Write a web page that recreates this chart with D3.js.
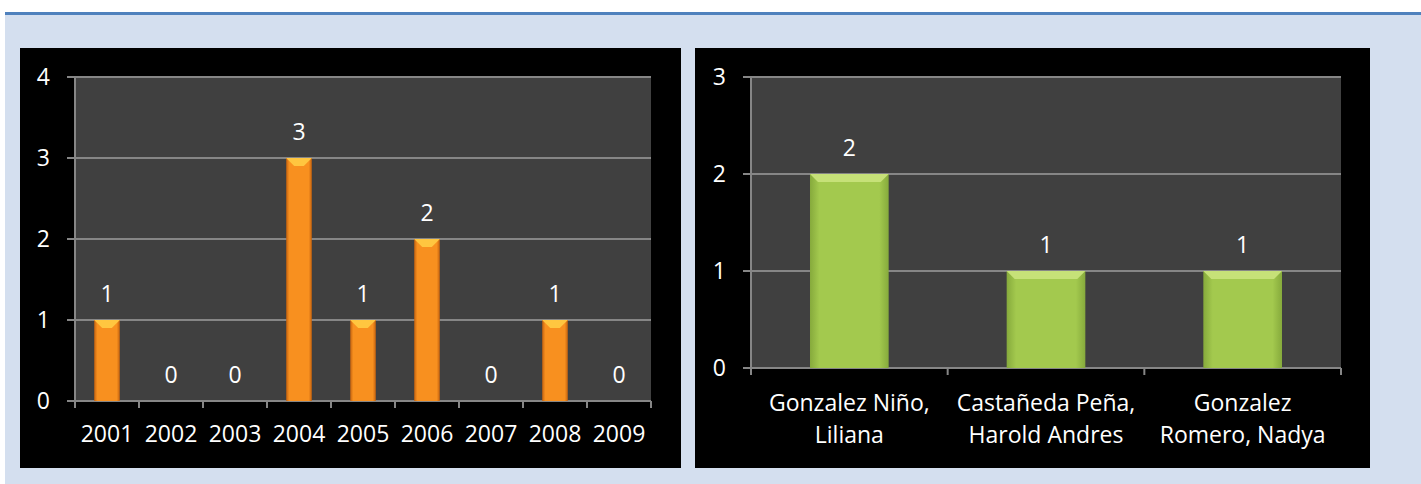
<!DOCTYPE html>
<html>
<head>
<meta charset="utf-8">
<script src="https://cdn.jsdelivr.net/npm/d3@7"></script>
<style>
  body { margin: 0; background: #ffffff; }
  svg { display: block; }
</style>
</head>
<body>
<div id="canvase"></div>
<script>
// data
var years = ["2001", "2002", "2003", "2004", "2005", "2006", "2007", "2008", "2009"];
var yearCounts = [1, 0, 0, 3, 1, 2, 0, 1, 0];
var yearTicks = [0, 1, 2, 3, 4];

var authors = [["Gonzalez Niño,", "Liliana"], ["Castañeda Peña,", "Harold Andres"], ["Gonzalez", "Romero, Nadya"]];
var authorCounts = [2, 1, 1];
var authorTicks = [0, 1, 2, 3];

var W = 1421, H = 484;
var fontF = "'Open Sans', 'Liberation Sans', sans-serif";
var fontS = "23px";

var svg = d3.select("#canvase").append("svg")
            .attr("width", W)
            .attr("height", H);

var defs = svg.append("defs");

function barGrad(id, edge, mid) {
  var g = defs.append("linearGradient")
              .attr("id", id)
              .attr("x1", "0%").attr("x2", "100%")
              .attr("y1", "0%").attr("y2", "0%");
  g.append("stop").attr("offset", "0%").attr("stop-color", edge);
  g.append("stop").attr("offset", "12%").attr("stop-color", mid);
  g.append("stop").attr("offset", "88%").attr("stop-color", mid);
  g.append("stop").attr("offset", "100%").attr("stop-color", edge);
}
barGrad("orangeBar", "#c4620f", "#f8901f");
barGrad("greenBar", "#86aa3c", "#a3c94e");

// page background
svg.append("rect").attr("x", 5).attr("y", 12).attr("width", W - 5).attr("height", 3)
   .style("fill", "#4f81bd");
svg.append("rect").attr("x", 5).attr("y", 15).attr("width", W - 5).attr("height", H - 15)
   .style("fill", "#d4dfef");

function drawChart(cfg) {
  var g = svg.append("g");

  g.append("rect")
   .attr("x", cfg.panel[0]).attr("y", cfg.panel[1])
   .attr("width", cfg.panel[2] - cfg.panel[0])
   .attr("height", cfg.panel[3] - cfg.panel[1])
   .style("fill", "#000000");

  var x = d3.scaleBand()
            .domain(d3.range(cfg.values.length))
            .range([cfg.left, cfg.right])
            .paddingInner(0.6)
            .paddingOuter(0.3);

  var y = d3.scaleLinear()
            .domain([0, d3.max(cfg.ticks)])
            .range([cfg.bottom, cfg.top]);

  // plot area
  g.append("rect")
   .attr("x", cfg.left).attr("y", cfg.top)
   .attr("width", cfg.right - cfg.left)
   .attr("height", cfg.bottom - cfg.top)
   .style("fill", "#404040");

  // gridlines + y ticks
  g.selectAll("line.grid")
   .data(cfg.ticks)
   .enter()
   .append("line")
   .attr("class", "grid")
   .attr("x1", cfg.left - 8).attr("x2", cfg.right)
   .attr("y1", function(d) { return y(d); })
   .attr("y2", function(d) { return y(d); })
   .attr("stroke", "#868686")
   .attr("stroke-width", 2);

  g.selectAll("text.ytick")
   .data(cfg.ticks)
   .enter()
   .append("text")
   .attr("class", "ytick")
   .attr("x", cfg.left - 25)
   .attr("y", function(d) { return y(d); })
   .attr("dy", "0.36em")
   .attr("text-anchor", "end")
   .style("fill", "#ffffff")
   .style("font-family", fontF)
   .style("font-size", fontS)
   .text(function(d) { return d; });

  // y axis line
  g.append("line")
   .attr("x1", cfg.left).attr("x2", cfg.left)
   .attr("y1", cfg.top).attr("y2", cfg.bottom + 7)
   .attr("stroke", "#868686")
   .attr("stroke-width", 2);

  // x ticks on category boundaries
  var step = x.step();
  g.selectAll("line.xtick")
   .data(d3.range(cfg.values.length + 1))
   .enter()
   .append("line")
   .attr("class", "xtick")
   .attr("x1", function(i) { return cfg.left + i * step; })
   .attr("x2", function(i) { return cfg.left + i * step; })
   .attr("y1", cfg.bottom).attr("y2", cfg.bottom + 7)
   .attr("stroke", "#868686")
   .attr("stroke-width", 2);

  // bars (zero values draw nothing)
  var pts = cfg.values.map(function(v, i) { return { v: v, i: i }; })
                      .filter(function(d) { return d.v > 0; });

  var bars = g.selectAll("g.bar")
              .data(pts)
              .enter()
              .append("g")
              .attr("class", "bar");

  bars.append("rect")
      .attr("x", function(d) { return x(d.i); })
      .attr("y", function(d) { return y(d.v); })
      .attr("width", x.bandwidth())
      .attr("height", function(d) { return cfg.bottom - y(d.v); })
      .style("fill", "url(#" + cfg.grad + ")");

  // bevel on the top edge
  bars.append("path")
      .attr("d", function(d) {
        var x0 = x(d.i), w = x.bandwidth(), y0 = y(d.v);
        var bb = Math.min(cfg.bevel, w / 2 - 3);
        return "M" + x0 + "," + y0 + "L" + (x0 + w) + "," + y0 +
               "L" + (x0 + w - bb) + "," + (y0 + bb) + "L" + (x0 + bb) + "," + (y0 + bb) + "Z";
      })
      .style("fill", cfg.topColor);

  // value labels
  g.selectAll("text.val")
   .data(cfg.values)
   .enter()
   .append("text")
   .attr("class", "val")
   .attr("x", function(d, i) { return x(i) + x.bandwidth() / 2; })
   .attr("y", function(d) { return y(d) - 26; })
   .attr("dy", "0.36em")
   .attr("text-anchor", "middle")
   .style("fill", "#ffffff")
   .style("font-family", fontF)
   .style("font-size", fontS)
   .text(function(d) { return d; });

  // category labels
  var cl = g.selectAll("text.cat")
            .data(cfg.cats)
            .enter()
            .append("text")
            .attr("class", "cat")
            .attr("text-anchor", "middle")
            .style("fill", "#ffffff")
            .style("font-family", fontF)
            .style("font-size", fontS);

  cl.selectAll("tspan")
    .data(function(d, i) {
      var lines = Array.isArray(d) ? d : [d];
      return lines.map(function(t) { return { t: t, i: i }; });
    })
    .enter()
    .append("tspan")
    .attr("x", function(d) { return x(d.i) + x.bandwidth() / 2; })
    .attr("y", function(d, j) { return cfg.catY + j * 32; })
    .attr("dy", "0.36em")
    .text(function(d) { return d.t; });
}

drawChart({
  panel: [20, 48, 681, 468],
  left: 75, right: 651, top: 77, bottom: 401,
  values: yearCounts, ticks: yearTicks, cats: years,
  grad: "orangeBar", topColor: "#ffc640",
  bevel: 8, catY: 434
});

drawChart({
  panel: [695, 48, 1370, 468],
  left: 751, right: 1341, top: 77, bottom: 368,
  values: authorCounts, ticks: authorTicks, cats: authors,
  grad: "greenBar", topColor: "#c6e178",
  bevel: 8, catY: 403
});
</script>
</body>
</html>
